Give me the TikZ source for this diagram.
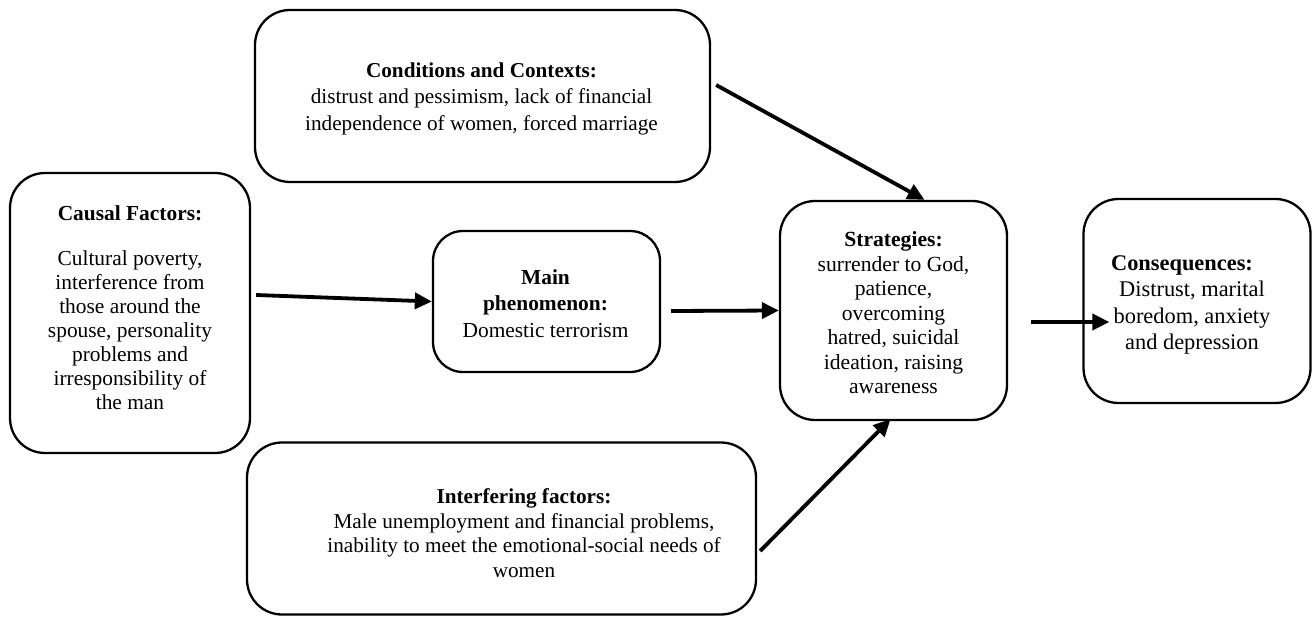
\documentclass[tikz,border=0pt]{standalone}
\usepackage{fontspec}
\setmainfont{Liberation Serif}
\usetikzlibrary{arrows.meta,calc}
\begin{document}
\begin{tikzpicture}[x=1pt,y=-1pt,
  box/.style={draw=black, line width=2.3pt, rounded corners=#1, inner sep=0pt},
  box/.default=35pt,
  txt/.style={align=center, inner sep=0pt},
  arr/.style={line width=3.8pt, -{Triangle[length=17pt,width=16pt]}}]
\useasboundingbox (0,0) rectangle (1314,617);

% boxes
\node[box, minimum width=455pt, minimum height=172pt] (cond) at (482.5,96) {};
\node[box, minimum width=240pt, minimum height=280pt] (causal) at (130,313) {};
\node[box=30pt, minimum width=227pt, minimum height=141pt] (main) at (546.5,301.5) {};
\node[box, minimum width=227pt, minimum height=219pt] (strat) at (893.5,310.5) {};
\node[box, minimum width=227pt, minimum height=204pt] (cons) at (1197,301) {};
\node[box, minimum width=509pt, minimum height=172pt] (interf) at (501.5,528.5) {};

% texts
\node[txt, font=\fontsize{21.2}{26.5}\selectfont] (condt) at (481.5,98.5)
  {\textbf{Conditions and Contexts:}\\distrust and pessimism, lack of financial\\independence of women, forced marriage};

\node[txt, font=\fontsize{21.4}{24}\selectfont] (causalt) at (130,308)
  {\textbf{Causal Factors:}\\[21pt]Cultural poverty,\\interference from\\those around the\\spouse, personality\\problems and\\irresponsibility of\\the man};

\node[txt, font=\fontsize{21.4}{26.5}\selectfont] (maint) at (545.5,303.5)
  {\textbf{Main}\\\textbf{phenomenon:}\\Domestic terrorism};

\node[txt, font=\fontsize{21.6}{24.5}\selectfont] (stratt) at (893.5,313)
  {\textbf{Strategies:}\\surrender to God,\\patience,\\overcoming\\hatred, suicidal\\ideation, raising\\awareness};

\node[txt, font=\fontsize{22.4}{26.5}\selectfont] (const) at (1192,305)
  {\textbf{Consequences:}\hspace*{20pt}\\Distrust, marital\\boredom, anxiety\\and depression};

\node[txt, font=\fontsize{21.2}{24.5}\selectfont] (interft) at (524,533)
  {\textbf{Interfering factors:}\\Male unemployment and financial problems,\\inability to meet the emotional-social needs of\\women};

% connectors
\coordinate (c1) at ($(causal.east)+(5,-18)$);
\coordinate (c2) at ($(main.east)+(10,9.5)$);
\coordinate (c3) at ($(cond.east)+(5,-11)$);
\coordinate (c3e) at ($(strat.north)+(31,0)$);
\coordinate (c4) at ($(interf.east)+(3,22.5)$);
\coordinate (c4e) at ($(strat.south)+(-3,-2)$);
\coordinate (c5) at ($(strat.east)+(23,11.5)$);
\coordinate (c5e) at ($(cons.west)+(27,21)$);

\draw[arr] (c1) -- (main.west);
\draw[arr] (c2) -- (strat.west);
\draw[arr] (c3) -- (c3e);
\draw[arr] (c4) -- (c4e);
\draw[arr] (c5) -- (c5e);
\end{tikzpicture}
\end{document}
